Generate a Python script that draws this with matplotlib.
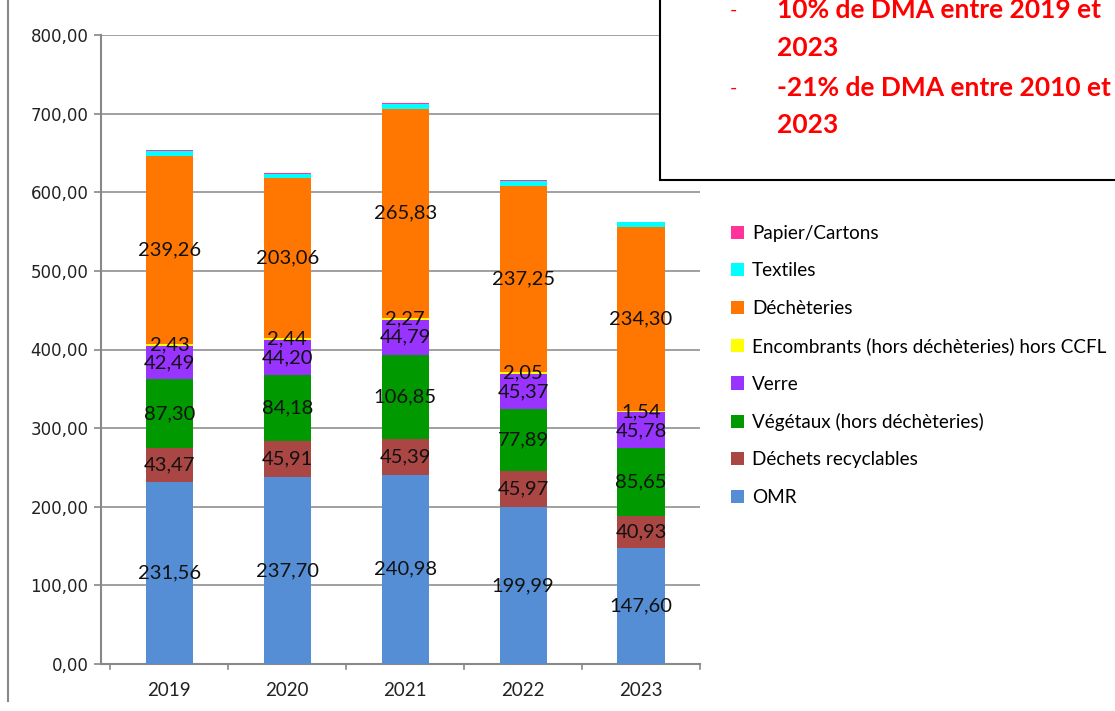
import numpy as np
import matplotlib.pyplot as plt
from matplotlib.patches import Rectangle
from matplotlib.lines import Line2D

# --- données (t/an) ---
annees = ['2019', '2020', '2021', '2022', '2023']
omr = [231.56, 237.70, 240.98, 199.99, 147.60]
recyclables = [43.47, 45.91, 45.39, 45.97, 40.93]
vegetaux = [87.30, 84.18, 106.85, 77.89, 85.65]
verre = [42.49, 44.20, 44.79, 45.37, 45.78]
encombrants = [2.43, 2.44, 2.27, 2.05, 1.54]
decheteries = [239.26, 203.06, 265.83, 237.25, 234.30]
textiles = [6.0, 6.2, 5.8, 5.5, 6.5]
papier = [1.5, 1.4, 1.5, 1.3, 0.3]

noms = ['OMR', 'Déchets recyclables', 'Végétaux (hors déchèteries)', 'Verre',
        'Encombrants (hors déchèteries) hors CCFL', 'Déchèteries', 'Textiles',
        'Papier/Cartons']
couleurs = ['#558ED5', '#AA4643', '#009900', '#9933FF', '#FFFF00', '#FF7700',
            '#00FFFF', '#FF3399']
series = [omr, recyclables, vegetaux, verre, encombrants, decheteries, textiles, papier]
avec_etiquette = [True, True, True, True, True, True, False, False]

POLICE = 'Lato'

fig = plt.figure(figsize=(11.15, 7.11), dpi=100)
ax = fig.add_axes([101 / 1115, 47 / 711, 599 / 1115, 629 / 711])

x = np.arange(len(annees))
bas = np.zeros(len(annees))
for vals, nom, c, etiq in zip(series, noms, couleurs, avec_etiquette):
    vals = np.array(vals)
    ax.bar(x, vals, 0.40, bottom=bas, color=c, label=nom, zorder=3)
    if etiq:
        for xi, b, v in zip(x, bas, vals):
            ax.text(xi, b + v / 2, f'{v:.2f}'.replace('.', ','), ha='center',
                    va='center', fontsize=14.5, family=POLICE, color='#111111', zorder=4)
    bas += vals

ax.set_xlim(-0.58, 4.5)
ax.set_ylim(0, 800)
ax.set_yticks(np.arange(0, 801, 100))
ax.set_yticklabels([f'{v:.2f}'.replace('.', ',') for v in np.arange(0, 801, 100)],
                   fontsize=12, color='#222222', family='DejaVu Sans')
ax.set_xticks(x)
ax.set_xticklabels(annees, fontsize=13.5, family=POLICE, color='#222222')
ax.tick_params(axis='x', length=0, pad=13)
ax.tick_params(axis='y', length=5, color='#888888', width=1.2, pad=4)
for xb in np.arange(-0.5, 4.6, 1):
    ax.plot([xb, xb], [0, -6], color='#888888', lw=1.2, clip_on=False, zorder=2)
ax.grid(axis='y', color='#999999', lw=1.3, zorder=0)
for s in ['top', 'right']:
    ax.spines[s].set_visible(False)
ax.spines['left'].set_color('#888888')
ax.spines['left'].set_linewidth(1.5)
ax.spines['bottom'].set_color('#888888')
ax.spines['bottom'].set_linewidth(1.5)

# trait vertical à gauche du graphique
fig.add_artist(Line2D([8 / 1115, 8 / 1115], [10 / 711, 1], color='#888888', lw=1.5))

# légende
poignees, etiquettes = ax.get_legend_handles_labels()
leg = fig.legend(poignees[::-1], etiquettes[::-1], loc='upper left',
                 bbox_to_anchor=(714 / 1115, 1 - 208 / 711), frameon=False,
                 prop={'family': POLICE, 'size': 13.6}, handlelength=0.7,
                 handleheight=0.7, handletextpad=0.4, labelspacing=1.08)

# encadré texte rouge
fig.add_artist(Rectangle((660 / 1115, 1 - 180 / 711), 0.5, 0.4, transform=fig.transFigure,
                         facecolor='white', edgecolor='black', lw=1.5, zorder=10))
lignes = [(10, '-', '10% de DMA entre 2019 et'), (48, '', '2023'),
          (88, '-', '-21% de DMA entre 2010 et'), (125, '', '2023')]
for yl, tiret, txt in lignes:
    if tiret:
        fig.text(733 / 1115, 1 - yl / 711, tiret, color='#FF0000', fontsize=14,
                 va='center', ha='center', family=POLICE, zorder=11)
    fig.text(777 / 1115, 1 - yl / 711, txt, color='#FF0000', fontsize=19,
             fontweight='bold', va='center', ha='left', family=POLICE, zorder=11)

fig.savefig('out.png', dpi=100)
